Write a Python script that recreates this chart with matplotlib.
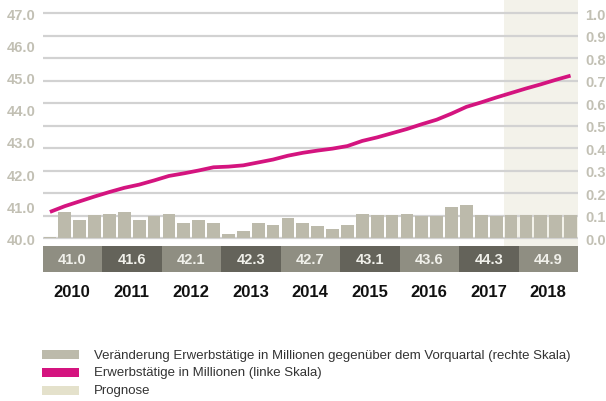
import matplotlib as mpl
mpl.use("Agg")
import matplotlib.pyplot as plt
from matplotlib.patches import Rectangle

#
# --- data (quarters 2010Q1 .. 2018Q4)
#
YEARS = ["2010", "2011", "2012", "2013", "2014", "2015", "2016", "2017", "2018"]
YEAR_AVG = ["41.0", "41.6", "42.1", "42.3", "42.7", "43.1", "43.6", "44.3", "44.9"]

# change of employed persons vs previous quarter, millions (right scale)
CHANGE = [
    0.005, 0.116, 0.082, 0.104,
    0.110, 0.116, 0.082, 0.098,
    0.110, 0.070, 0.082, 0.070,
    0.020, 0.032, 0.070, 0.060,
    0.088, 0.070, 0.054, 0.041,
    0.060, 0.110, 0.104, 0.104,
    0.110, 0.098, 0.098, 0.138,
    0.150, 0.104, 0.098, 0.104,
    0.104, 0.104, 0.104, 0.104,
]

# employed persons, millions (left scale)
EMPLOYED = [
    40.82, 41.00, 41.15, 41.30,
    41.44, 41.57, 41.67, 41.80,
    41.94, 42.02, 42.11, 42.21,
    42.23, 42.27, 42.36, 42.45,
    42.57, 42.66, 42.73, 42.79,
    42.87, 43.03, 43.14, 43.27,
    43.40, 43.55, 43.69, 43.88,
    44.09, 44.23, 44.38, 44.52,
    44.66, 44.79, 44.93, 45.06,
]

FORECAST_START = 31  # forecast shading starts with 2017Q4

LEGEND_LABELS = [
    "Veränderung Erwerbstätige in Millionen gegenüber dem Vorquartal (rechte Skala)",
    "Erwerbstätige in Millionen (linke Skala)",
    "Prognose",
]

BAR_COLOR = "#bcbaab"
LINE_COLOR = "#d4147f"
SHADE_COLOR = "#f3f2ea"
SHADE_LEGEND = "#e4e1cb"
GRID_COLOR = "#d2d2d2"
TICK_COLOR = "#c2c0b4"
BOX_COLORS = ["#8f8e82", "#64635a"]

SANS = ["Liberation Sans", "DejaVu Sans"]

W, H = 606, 402


def fx(px):
    return px / W


def fy(py):
    return 1 - py / H


fig = plt.figure(figsize=(W / 100, H / 100), dpi=100)

#
# --- main plotting area: bars on the right scale, line on the left scale
#
ax_top, ax_bot = 12.0, 242.0
ax_bar = fig.add_axes([fx(42.5), fy(ax_bot), fx(578) - fx(42.5), fy(ax_top) - fy(ax_bot)])
px_per_unit = (239.3 - 14.3) / 7.0
lo = 40 - (ax_bot - 239.3) / px_per_unit
hi = 47 + (14.3 - ax_top) / px_per_unit
ax_bar.set_ylim((lo - 40) / 7, (hi - 40) / 7)
ax_bar.set_xlim(0, len(CHANGE))

xs = [i + 0.5 for i in range(len(CHANGE))]

ax_bar.axvspan(FORECAST_START, len(CHANGE), ymin=-0.02, ymax=1 + ax_top / (ax_bot - ax_top),
               color=SHADE_COLOR, zorder=0, lw=0, clip_on=False)
ax_bar.bar(xs, CHANGE, width=0.86, color=BAR_COLOR, zorder=1)

ax_line = ax_bar.twinx()
ax_line.set_ylim(lo, hi)
ax_line.plot(xs, EMPLOYED, color=LINE_COLOR, lw=2.7, solid_capstyle="butt")
ax_line.set_yticks(range(40, 48))
ax_line.set_yticklabels([f"{v:.1f}" for v in range(40, 48)])
ax_line.yaxis.tick_left()
ax_line.tick_params(axis="y", length=0, pad=5, labelcolor=TICK_COLOR)

# twinx moves the original ticks to the left, so set the right side afterwards
ax_bar.set_axisbelow(True)
ax_bar.set_yticks([i / 10 for i in range(11)])
ax_bar.set_yticklabels([f"{i / 10:.1f}" for i in range(11)])
ax_bar.yaxis.tick_right()
ax_bar.grid(axis="y", color=GRID_COLOR, lw=1.6)
ax_bar.set_xticks([])
ax_bar.tick_params(axis="y", length=0, pad=5, labelcolor=TICK_COLOR)

for a in (ax_bar, ax_line):
    for lab in a.get_yticklabels():
        lab.set_fontfamily(SANS)
        lab.set_fontweight("bold")
        lab.set_fontsize(10.5)
    for s in a.spines.values():
        s.set_visible(False)
    a.patch.set_visible(False)

#
# --- yearly average boxes and year labels
#
ax_box = fig.add_axes([fx(42.5), fy(272.7), fx(578) - fx(42.5), fy(247) - fy(272.7)])
ax_box.set_xlim(0, len(CHANGE))
ax_box.set_ylim(0, 1)
centers = [4 * i + 2 for i in range(len(YEARS))]
ax_box.bar(centers, [1] * len(YEARS), width=4, bottom=0,
           color=[BOX_COLORS[i % 2] for i in range(len(YEARS))], lw=0)
for c, txt in zip(centers, YEAR_AVG):
    ax_box.text(c, 0.5, txt, ha="center", va="center", color="#f0f0ea",
                fontsize=10.5, fontweight="bold", family=SANS)
ax_box.axis("off")

ax_years = fig.add_axes([fx(42.5), fy(305), fx(578) - fx(42.5), fy(280) - fy(305)])
ax_years.set_xlim(0, len(CHANGE))
ax_years.set_ylim(0, 1)
for c, yr in zip(centers, YEARS):
    ax_years.text(c, 0.5, yr, ha="center", va="center", color="#111111",
                  fontsize=12, fontweight="bold", family=SANS)
ax_years.axis("off")

#
# --- legend drawn by hand
#
legend_colors = [BAR_COLOR, LINE_COLOR, SHADE_LEGEND]
legend_y = [355.5, 373.5, 391.5]
for col, yc, txt in zip(legend_colors, legend_y, LEGEND_LABELS):
    fig.patches.append(Rectangle((fx(42), fy(yc + 4.5)), fx(79) - fx(42), 9 / H,
                                 transform=fig.transFigure, color=col, lw=0))
    fig.text(fx(94), fy(yc), txt, ha="left", va="center", color="#333333",
             fontsize=9.5, family=SANS)

fig.savefig("out.png", dpi=100)
